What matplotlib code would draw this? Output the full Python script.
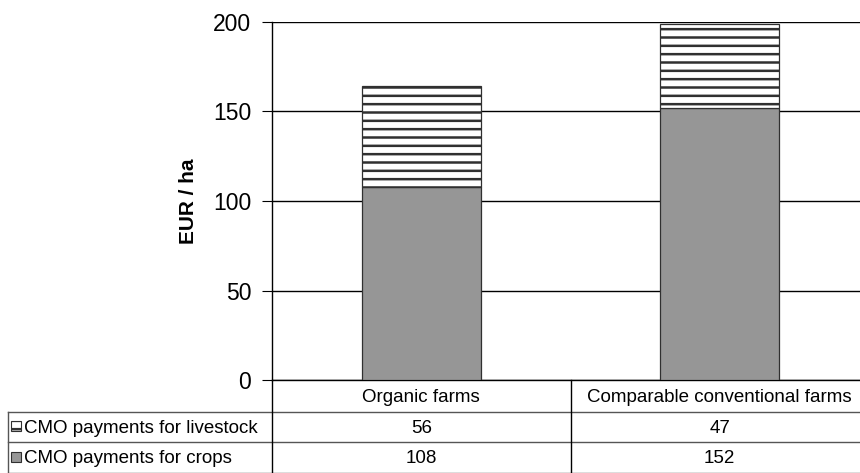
import numpy as np
import matplotlib
matplotlib.use("Agg")
import matplotlib.pyplot as plt
from matplotlib.patches import Rectangle

plt.rcParams['font.family'] = ['Liberation Sans', 'DejaVu Sans']
plt.rcParams['hatch.color'] = '#3a3a3a'
plt.rcParams['hatch.linewidth'] = 1.8

# data
categories = ["Organic farms", "Comparable conventional farms"]
series_names = ["CMO payments for livestock", "CMO payments for crops"]
crops = [108, 152]
livestock = [56, 47]
yticks = [0, 50, 100, 150, 200]

W, H = 860, 473
fig = plt.figure(figsize=(W / 100, H / 100), dpi=100)

# plot area in pixels (right side runs a little past the image edge)
left, right, top, bottom = 272, 869, 22, 380
ax = fig.add_axes([left / W, 1 - bottom / H, (right - left) / W, (bottom - top) / H])

x = np.arange(len(categories))
ax.bar(x, crops, width=0.40, color='#969696', edgecolor='#303030', linewidth=0.9, zorder=3)
ax.bar(x, livestock, bottom=crops, width=0.40, color='white', edgecolor='#303030',
       linewidth=0.9, hatch='--', zorder=3)

ax.set_xlim(-0.5, 1.5)
ax.set_ylim(0, 200)
ax.set_yticks(yticks)
ax.set_xticks([])
ax.tick_params(axis='y', labelsize=16.5, length=7, width=0.8, pad=8)
ax.yaxis.grid(True, color='black', linewidth=1)
ax.set_axisbelow(True)
for s in ['top', 'right']:
    ax.spines[s].set_visible(False)
ax.spines['left'].set_linewidth(1)
ax.spines['bottom'].set_linewidth(1)
ax.set_ylabel("EUR / ha", fontsize=15, fontweight='bold', labelpad=11)

# data table below the chart, drawn on an overlay in pixel coords
tb = fig.add_axes([0, 0, 1, 1], facecolor='none')
tb.set_xlim(0, W)
tb.set_ylim(H, 0)
tb.axis('off')

row_y = [380, 412, 442, 473]
col_x = [8, left, (left + right) / 2, right]
lc = 'black'
gc = '#555555'
tb.plot([col_x[0], W], [row_y[1], row_y[1]], color=gc, lw=1)
tb.plot([col_x[0], W], [row_y[2], row_y[2]], color=gc, lw=1)
tb.plot([col_x[0], W], [row_y[3] - 0.5, row_y[3] - 0.5], color=gc, lw=1)
tb.plot([col_x[0], col_x[0]], [row_y[1], row_y[3]], color=gc, lw=1)
tb.plot([col_x[1], col_x[1]], [row_y[0], row_y[3]], color=lc, lw=1)
tb.plot([col_x[2], col_x[2]], [row_y[0], row_y[3]], color=lc, lw=1)

fs = 13.5
for i, cat in enumerate(categories):
    cx = (col_x[i + 1] + col_x[i + 2]) / 2
    tb.text(cx, (row_y[0] + row_y[1]) / 2 + 1, cat, ha='center', va='center', fontsize=fs)
    tb.text(cx, (row_y[1] + row_y[2]) / 2 + 1, str(livestock[i]), ha='center', va='center', fontsize=fs)
    tb.text(cx, (row_y[2] + row_y[3]) / 2 + 1, str(crops[i]), ha='center', va='center', fontsize=fs)

# legend keys in the row headers
tb.add_patch(Rectangle((10.5, 421), 10, 10, facecolor='white', edgecolor='#303030', lw=0.8, hatch='--'))
tb.add_patch(Rectangle((10.5, 452), 10, 10, facecolor='#969696', edgecolor='#303030', lw=0.8))
tb.text(24, (row_y[1] + row_y[2]) / 2 + 1, series_names[0], ha='left', va='center', fontsize=fs)
tb.text(24, (row_y[2] + row_y[3]) / 2 + 1, series_names[1], ha='left', va='center', fontsize=fs)

fig.savefig("out.png", dpi=100)
